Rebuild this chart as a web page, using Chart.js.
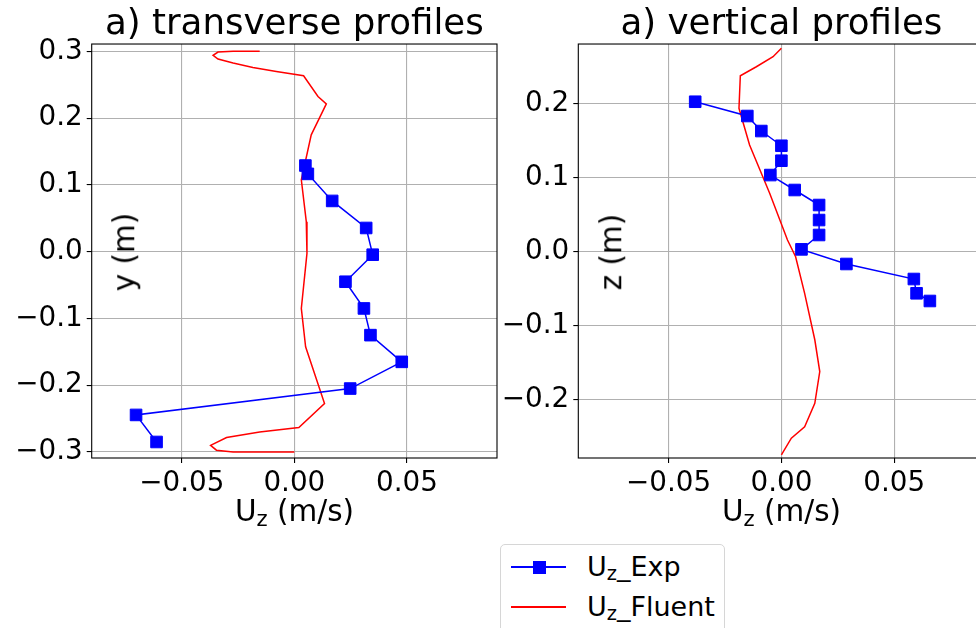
<!DOCTYPE html>
<html>
<head>
<meta charset="utf-8">
<script src="https://cdn.jsdelivr.net/npm/chart.js@4.4.1/dist/chart.umd.min.js"></script>
<style>
  html, body { margin: 0; padding: 0; width: 976px; height: 628px; overflow: hidden; background: #fff; }
  body { position: relative; font-family: 'DejaVu Sans', sans-serif; color: #000; }
  .box { position: absolute; top: 0; }
  #boxLeft { left: 0; }
  #boxRight { left: 480px; }
  .lbl { position: absolute; font-size: 29.5px; line-height: 1; white-space: nowrap; }
  .xl { top: 496.8px; transform: translateX(-50%); }
  .yl { top: 251.5px; transform: translate(-50%, -50%) rotate(-90deg); }
  sub { font-size: 0.72em; vertical-align: -0.22em; line-height: 0; }
  #legend { position: absolute; left: 500px; top: 544px; width: 225px; height: 110px; box-sizing: border-box;
            border: 1px solid #d6d6d6; border-radius: 5px; background: rgba(255,255,255,0.8); }
  .row { position: absolute; left: 0; width: 100%; height: 0; }
  .row .ln { position: absolute; left: 10px; width: 55px; top: -1px; border-top: 2px solid; }
  .row .mk { position: absolute; left: 31.5px; top: -6.5px; width: 13px; height: 13px; background: #0000ff; }
  .row .tx { position: absolute; left: 86px; top: -14.5px; font-size: 27px; line-height: 1; white-space: nowrap; }
</style>
</head>
<body>
<div class="box" id="boxLeft"><canvas id="chartTrans" width="589" height="540"></canvas></div>
<div class="box" id="boxRight"><canvas id="chartVert" width="603" height="540"></canvas></div>

<div class="lbl xl" style="left:294.5px">U<sub>z</sub> (m/s)</div>
<div class="lbl xl" style="left:781.5px">U<sub>z</sub> (m/s)</div>
<div class="lbl yl" style="left:124.5px">y (m)</div>
<div class="lbl yl" style="left:611.5px">z (m)</div>

<div id="legend">
  <div class="row" style="top:22px"><div class="ln" style="border-color:#0000ff"></div><div class="mk"></div><div class="tx">U<sub>z</sub>_Exp</div></div>
  <div class="row" style="top:62px"><div class="ln" style="border-color:#ff0000"></div><div class="tx">U<sub>z</sub>_Fluent</div></div>
</div>

<script>
  // tick positions
  const xTicks = [-0.05, 0, 0.05];
  const yTicksTrans = [-0.3, -0.2, -0.1, 0, 0.1, 0.2, 0.3];
  const zTicksVert = [-0.2, -0.1, 0, 0.1, 0.2];

  // transverse profiles
  const transExpU = [0.0049, 0.0060, 0.0168, 0.0319, 0.0348, 0.0227, 0.0309, 0.0338, 0.0477, 0.0248, -0.0703, -0.0612];
  const transExpY = [0.129, 0.1165, 0.076, 0.0355, -0.0045, -0.045, -0.085, -0.125, -0.165, -0.205, -0.2445, -0.285];
  const transFluentU = [-0.0154, -0.0272, -0.0339, -0.0361, -0.0339, -0.0272, -0.0184, -0.0080, 0.0041, 0.0105, 0.0142,
                        0.0075, 0.0031, 0.0053, 0.0056, 0.0031, 0.0050, 0.0134, 0.0020, -0.0154, -0.0301, -0.0372,
                        -0.0346, -0.0272, 0.0000];
  const transFluentY = [0.300, 0.300, 0.299, 0.294, 0.2885, 0.2825, 0.276, 0.270, 0.2634, 0.2324, 0.2214,
                        0.175, 0.1075, 0.045, -0.0025, -0.085, -0.1425, -0.2273, -0.2633, -0.270, -0.2783, -0.290,
                        -0.2973, -0.2999, -0.2999];

  // vertical profiles
  const vertExpU = [-0.0382, -0.0151, -0.0089, 0.0000, 0.0000, -0.0049, 0.0059, 0.0167, 0.0167, 0.0167, 0.0089, 0.0288, 0.0587, 0.0599, 0.0658];
  const vertExpZ = [0.2027, 0.1834, 0.1631, 0.1432, 0.123, 0.1036, 0.0834, 0.0631, 0.0428, 0.0226, 0.0032, -0.0166, -0.0369, -0.0562, -0.0666];
  const vertFluentU = [0.0000, -0.0037, -0.0111, -0.0182, -0.0188, -0.0141, -0.0052, 0.0027, 0.0063, 0.0103, 0.0148,
                       0.0170, 0.0148, 0.0103, 0.0044, 0.0000];
  const vertFluentZ = [0.2749, 0.2635, 0.250, 0.2378, 0.1938, 0.1442, 0.0789, 0.0158, -0.0068, -0.0562, -0.119,
                       -0.162, -0.205, -0.2365, -0.252, -0.2747];

  Chart.defaults.font.family = "'DejaVu Sans', sans-serif";
  Chart.defaults.color = '#000';

  const pts = (xs, ys) => xs.map((x, i) => ({ x, y: ys[i] }));
  const fmt = (d) => (v) => (Math.abs(v) < 1e-9 ? (0).toFixed(d) : v.toFixed(d)).replace('-', '\u2212');

  // matplotlib style box around the axes
  const frame = {
    id: 'frame',
    afterDatasetsDraw(chart) {
      const { ctx, chartArea: a } = chart;
      ctx.save();
      ctx.strokeStyle = '#000';
      ctx.lineWidth = 1.1;
      ctx.strokeRect(a.left, a.top, a.right - a.left, a.bottom - a.top);
      ctx.restore();
    }
  };

  const gridOpts = { color: '#b0b0b0', lineWidth: 1.1, tickColor: '#000', tickWidth: 1.1, tickLength: 5 };

  function makeChart(id, c) {
    return new Chart(document.getElementById(id), {
      type: 'scatter',
      data: {
        datasets: [
          { label: 'Uz_Exp', data: pts(c.expU, c.expY), showLine: true, borderColor: '#0000ff', backgroundColor: '#0000ff',
            borderWidth: 1.5, pointStyle: 'rect', pointRadius: 8.2, pointHoverRadius: 8.2, pointBorderWidth: 1 },
          { label: 'Uz_Fluent', data: pts(c.fluentU, c.fluentY), showLine: true, borderColor: '#ff0000',
            borderWidth: 1.5, pointRadius: 0, pointHoverRadius: 0 }
        ]
      },
      options: {
        responsive: false,
        animation: false,
        events: [],
        layout: { padding: { left: 0, right: c.padRight, top: 0, bottom: 0 } },
        plugins: {
          legend: { display: false },
          tooltip: { enabled: false },
          title: { display: true, fullSize: false, text: c.title, color: '#000',
                   font: { size: 35.6, weight: 'normal' }, padding: { top: 3.3, bottom: -2 } }
        },
        scales: {
          x: {
            type: 'linear', min: -0.09, max: 0.09,
            afterBuildTicks: (s) => { s.ticks = xTicks.map((v) => ({ value: v })); },
            afterFit: (s) => { s.height = 82; },
            ticks: { callback: fmt(2), color: '#000', font: { size: 27.8 }, padding: 4, maxRotation: 0 },
            grid: gridOpts,
            border: { display: false }
          },
          y: {
            type: 'linear', min: c.yMin, max: c.yMax,
            afterBuildTicks: (s) => { s.ticks = c.yTicks.map((v) => ({ value: v })); },
            afterFit: (s) => { s.width = c.yWidth; },
            ticks: { callback: fmt(1), color: '#000', font: { size: 27.8 }, padding: 4 },
            grid: gridOpts,
            border: { display: false }
          }
        }
      },
      plugins: [frame]
    });
  }

  makeChart('chartTrans', {
    title: 'a) transverse profiles',
    expU: transExpU, expY: transExpY, fluentU: transFluentU, fluentY: transFluentY,
    yTicks: yTicksTrans, yMin: -0.309, yMax: 0.311, yWidth: 91.7, padRight: 92
  });
  makeChart('chartVert', {
    title: 'a) vertical profiles',
    expU: vertExpU, expY: vertExpZ, fluentU: vertFluentU, fluentY: vertFluentZ,
    yTicks: zTicksVert, yMin: -0.2788, yMax: 0.2807, yWidth: 98.3, padRight: 98.5
  });
</script>
</body>
</html>
